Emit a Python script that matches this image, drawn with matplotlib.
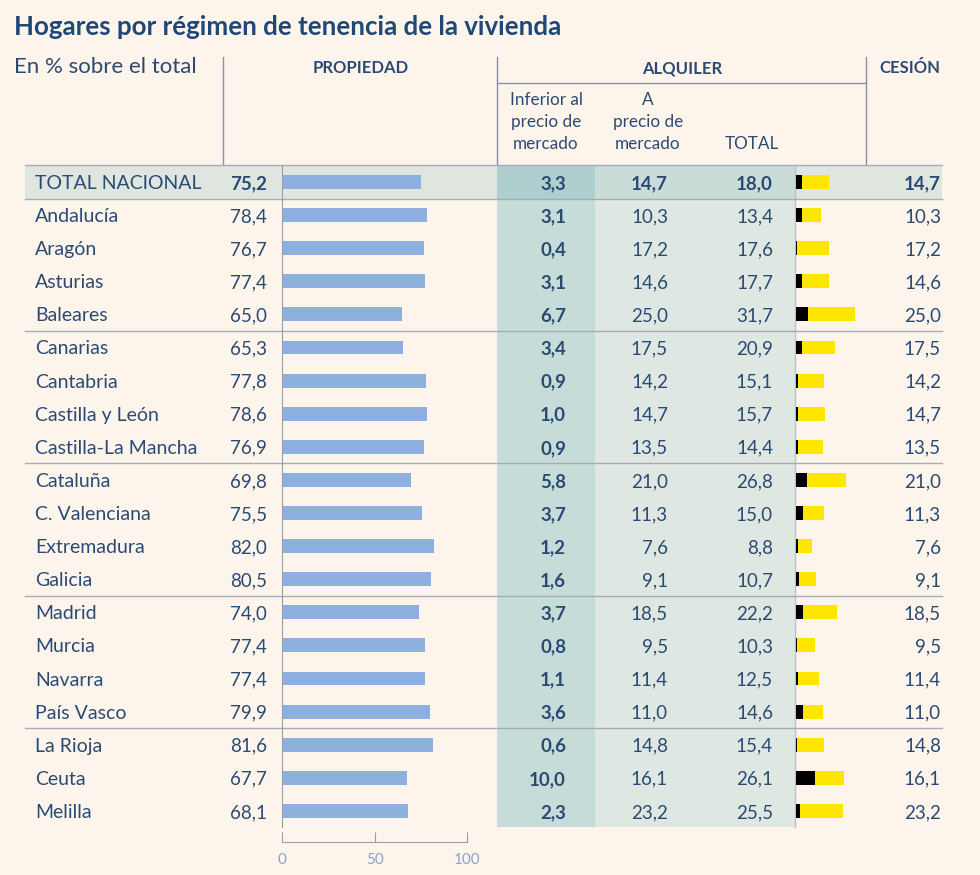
import matplotlib.pyplot as plt

plt.rcParams['font.family'] = ['Lato', 'DejaVu Sans']

# ---- data ----
regions = ["TOTAL NACIONAL", "Andalucía", "Aragón", "Asturias", "Baleares",
           "Canarias", "Cantabria", "Castilla y León", "Castilla-La Mancha",
           "Cataluña", "C. Valenciana", "Extremadura", "Galicia", "Madrid",
           "Murcia", "Navarra", "País Vasco", "La Rioja", "Ceuta", "Melilla"]
propiedad = [75.2, 78.4, 76.7, 77.4, 65.0, 65.3, 77.8, 78.6, 76.9, 69.8,
             75.5, 82.0, 80.5, 74.0, 77.4, 77.4, 79.9, 81.6, 67.7, 68.1]
alq_inferior = [3.3, 3.1, 0.4, 3.1, 6.7, 3.4, 0.9, 1.0, 0.9, 5.8,
                3.7, 1.2, 1.6, 3.7, 0.8, 1.1, 3.6, 0.6, 10.0, 2.3]
alq_mercado = [14.7, 10.3, 17.2, 14.6, 25.0, 17.5, 14.2, 14.7, 13.5, 21.0,
               11.3, 7.6, 9.1, 18.5, 9.5, 11.4, 11.0, 14.8, 16.1, 23.2]
alq_total = [18.0, 13.4, 17.6, 17.7, 31.7, 20.9, 15.1, 15.7, 14.4, 26.8,
             15.0, 8.8, 10.7, 22.2, 10.3, 12.5, 14.6, 15.4, 26.1, 25.5]
cesion = [14.7, 10.3, 17.2, 14.6, 25.0, 17.5, 14.2, 14.7, 13.5, 21.0,
          11.3, 7.6, 9.1, 18.5, 9.5, 11.4, 11.0, 14.8, 16.1, 23.2]
group_breaks = [1, 5, 9, 13, 17]   # a line above these rows
prop_ticks = [0, 50, 100]

# ---- styles ----
W, H = 980, 875
bg = '#fdf5ec'
txt = '#2b4a73'
title_c = '#1f4878'
line_c = '#a9aab8'
col_inf = '#c6dcd9'
col_rest = '#dee7e2'
tot_row = '#dfe6e0'
tot_inf = '#aecfcd'
tot_rest = '#c9dcd7'
bar_blue = '#8eb0de'
FS_NAME = 14
FS_NUM = 13.5

ROW0, DY = 182, 33.1
TOP = ROW0 - DY / 2
BOT = TOP + DY * len(regions)


def ry(i):
    return ROW0 + DY * i + 1.5


def fmt(v):
    return f"{v:.1f}".replace('.', ',')


fig = plt.figure(figsize=(W / 100, H / 100), dpi=100, facecolor=bg)
ax = fig.add_axes([0, 0, 1, 1])
ax.set_xlim(0, W)
ax.set_ylim(H, 0)
ax.axis('off')

# title / subtitle
ax.text(14, 27, 'Hogares por régimen de tenencia de la vivienda', fontsize=18.6,
        fontweight='bold', color=title_c, va='center', ha='left')
ax.text(14, 67, 'En % sobre el total', fontsize=16, color=txt, va='center')

# header frame
for x in (223, 497, 866):
    ax.plot([x, x], [57, TOP - 1], color='#8a90a8', lw=1)
ax.plot([497, 866], [83, 83], color='#8a90a8', lw=1)
for x, lab in ((361, 'PROPIEDAD'), (682, 'ALQUILER'), (910, 'CESIÓN')):
    ax.text(x, 68, lab, fontsize=12, fontweight='bold', color=txt,
            ha='center', va='center')
ax.text(546, 92, 'Inferior al\nprecio de\nmercado', fontsize=12.3, color=txt,
        ha='center', va='top', linespacing=1.47)
ax.text(648, 92, 'A\nprecio de\nmercado', fontsize=12.3, color=txt,
        ha='center', va='top', linespacing=1.47)
ax.text(752, 144, 'TOTAL', fontsize=12.3, color=txt, ha='center', va='center')

# shading
ax.add_patch(plt.Rectangle((25, TOP), 917, DY, color=tot_row, lw=0))
ax.add_patch(plt.Rectangle((497, TOP), 98, DY, color=tot_inf, lw=0))
ax.add_patch(plt.Rectangle((595, TOP), 200, DY, color=tot_rest, lw=0))
ax.add_patch(plt.Rectangle((497, TOP + DY), 98, BOT - TOP - DY, color=col_inf, lw=0))
ax.add_patch(plt.Rectangle((595, TOP + DY), 200, BOT - TOP - DY, color=col_rest, lw=0))
ax.plot([795, 795], [TOP, BOT], color='#b8c4c4', lw=1)

# horizontal separators
for k in [0] + group_breaks:
    y = TOP + DY * k
    ax.plot([25, 942], [y, y], color=line_c, lw=1)

# text columns
for i, name in enumerate(regions):
    y = ry(i)
    w = 'bold' if i == 0 else 'normal'
    ax.text(35, y, name, fontsize=FS_NAME, color=txt, va='center', ha='left')
    ax.text(267, y, fmt(propiedad[i]), fontsize=FS_NUM, color=txt, va='center',
            ha='right', fontweight=w)
    ax.text(566, y, fmt(alq_inferior[i]), fontsize=FS_NUM, color=txt, va='center',
            ha='right', fontweight='bold')
    ax.text(668, y, fmt(alq_mercado[i]), fontsize=FS_NUM, color=txt, va='center',
            ha='right', fontweight=w)
    ax.text(773, y, fmt(alq_total[i]), fontsize=FS_NUM, color=txt, va='center',
            ha='right', fontweight=w)
    ax.text(941, y, fmt(cesion[i]), fontsize=FS_NUM, color=txt, va='center',
            ha='right', fontweight=w)

rows = list(range(len(regions)))
PX = 1.85          # pixels per percentage point
AX_BOT = 842       # pixel row of the propiedad scale


def fig_rect(x0, x1, y0, y1):
    return [x0 / W, 1 - y1 / H, (x1 - x0) / W, (y1 - y0) / H]


# propiedad bars
bp = fig.add_axes(fig_rect(282, 282 + 100 * PX, TOP, AX_BOT))
bp.set_facecolor('none')
bp.barh(rows, propiedad, height=0.42, color=bar_blue)
bp.set_xlim(0, 100)
bp.set_ylim((AX_BOT - ROW0) / DY, -0.5)
for s in ('top', 'right'):
    bp.spines[s].set_visible(False)
bp.spines['left'].set_bounds(len(regions) - 0.5, -0.5)
bp.spines['left'].set_color('#9a9cb0')
bp.spines['bottom'].set_bounds(0, 100)
bp.spines['bottom'].set_color('#9a9cb0')
bp.set_yticks([])
bp.set_xticks(prop_ticks)
bp.set_xticklabels([str(t) for t in prop_ticks])
bp.tick_params(axis='x', direction='in', length=7, color='#9a9cb0',
               labelcolor='#8ea2c6', labelsize=11, pad=8)

# alquiler stacked bars
ba = fig.add_axes(fig_rect(796, 796 + 60 * PX, TOP, BOT))
ba.set_facecolor('none')
ba.barh(rows, alq_inferior, height=0.42, color='black')
ba.barh(rows, alq_mercado, left=alq_inferior, height=0.42, color='#ffe600')
ba.set_xlim(0, 60)
ba.set_ylim(len(regions) - 0.5, -0.5)
ba.axis('off')

fig.savefig('out.png', dpi=100, facecolor=bg)
